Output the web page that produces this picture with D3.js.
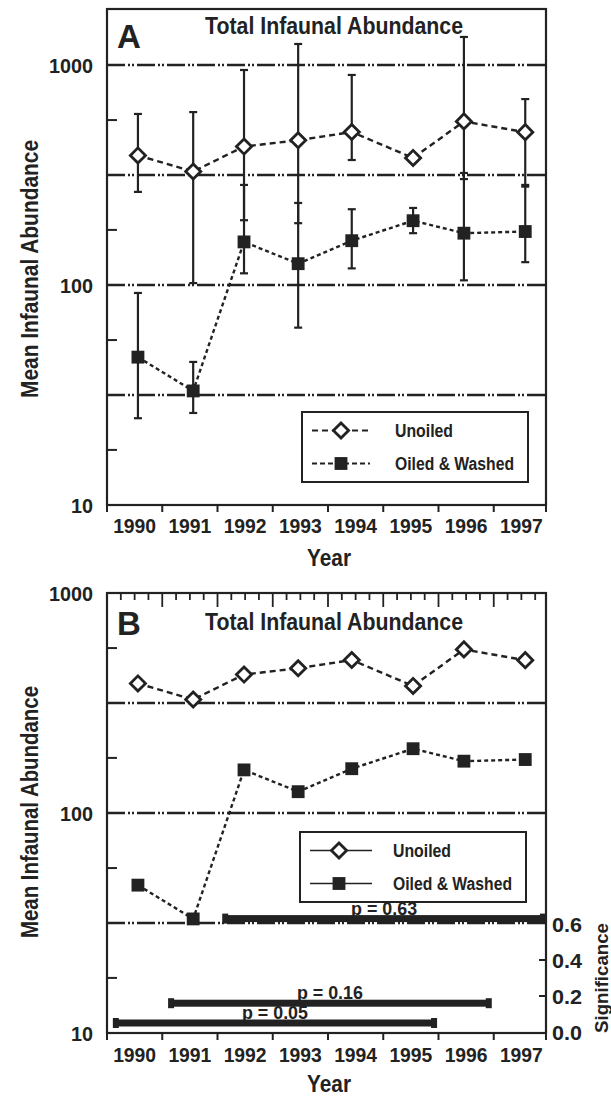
<!DOCTYPE html>
<html>
<head>
<meta charset="utf-8">
<script src="https://cdn.jsdelivr.net/npm/d3@7"></script>
<style>
  html, body { margin: 0; padding: 0; background: #fff; }
  svg { display: block; }
  text { font-family: 'Liberation Sans', Arial, Helvetica, sans-serif; font-weight: bold; fill: #222; }
</style>
</head>
<body>
<svg id="chart" width="611" height="1098"></svg>
<script>
// --- data ---
const years = [1990, 1991, 1992, 1993, 1994, 1995, 1996, 1997];
// sampling positions on the year axis (markers sit slightly off the year centres)
const sampleTimes = [1990.06, 1991.06, 1991.98, 1992.96, 1993.93, 1995.04, 1995.96, 1997.07];

const unoiledMean = [388, 328, 426, 455, 496, 378, 554, 495];
const unoiledLow  = [265, 102, 197, 191, 370, null, 303, 285];
const unoiledHigh = [599, 611, 949, 1246, 901, null, 1341, 700];

const oiledMean = [47, 33, 157, 125, 159, 196, 172, 175];
const oiledLow  = [24.8, 26.2, 113, 64, 119, 172, 105, 127];
const oiledHigh = [92, 44.7, 285, 236, 221, 224, 323, 280];

const yTickValues = [10, 100, 1000];
const gridValues = [1000, 316.2, 100, 31.62];
const minorTickValues = [562, 178, 56.2, 17.8];

// significance of the moving 6-year comparisons (panel B, right axis)
const sigTickValues = [0, 0.2, 0.4, 0.6];
const sigP = [0.63, 0.16, 0.05];
const sigStart = [1991.64, 1990.66, 1989.66];
const sigEnd = [1997.39, 1996.41, 1995.42];

const seriesNames = ['Unoiled', 'Oiled & Washed'];

// --- layout ---
const ink = '#222';
const gridDash = '18,3,2,2,2,3';
const svg = d3.select('#chart');

const x = d3.scaleLinear().domain([1989.5, 1997.5]).range([107, 549]);
const boxLeft = 107, boxRight = 546;

const panels = [
  { letter: 'A', top: 9, bottom: 505, y10: 505, y1000: 65, titleY: 34, letterY: 48,
    yTitleY: 269, yTitleLen: 258, xLabelY: 533, xTitleY: 566, errorBars: true, topTicks: false,
    legend: { x0: 302, y0: 412, x1: 528, y1: 482, dashed: true } },
  { letter: 'B', top: 593, bottom: 1033, y10: 1033, y1000: 593, titleY: 630, letterY: 635,
    yTitleY: 812, yTitleLen: 252, xLabelY: 1062, xTitleY: 1092, errorBars: false, topTicks: true,
    legend: { x0: 300, y0: 832, x1: 526, y1: 902, dashed: false }, significance: true }
];

const legendTextLen = [58, 119];

const diamond = d3.symbol().type(d3.symbolSquare).size(115);
const square = d3.symbol().type(d3.symbolSquare).size(165);

function drawMarker(g, type, cx, cy) {
  if (type === 'diamond') {
    g.append('path')
      .attr('d', diamond())
      .attr('transform', `translate(${cx},${cy}) rotate(45)`)
      .attr('fill', '#fff')
      .attr('stroke', ink)
      .attr('stroke-width', 2.8);
  } else {
    g.append('path')
      .attr('d', square())
      .attr('transform', `translate(${cx},${cy})`)
      .attr('fill', ink);
  }
}

function drawPanel(p) {
  const g = svg.append('g');
  const y = d3.scaleLog().domain([10, 1000]).range([p.y10, p.y1000]);

  // gridlines (dash-dot-dot)
  g.append('g').selectAll('line')
    .data(gridValues.filter(v => y(v) > p.top + 2))
    .enter().append('line')
    .attr('x1', boxLeft).attr('x2', boxRight)
    .attr('y1', d => y(d)).attr('y2', d => y(d))
    .attr('stroke', ink).attr('stroke-width', 2.4)
    .attr('stroke-dasharray', gridDash);

  // minor ticks on left axis (inward)
  g.append('g').selectAll('line')
    .data(minorTickValues)
    .enter().append('line')
    .attr('x1', boxLeft).attr('x2', boxLeft + 10)
    .attr('y1', d => y(d)).attr('y2', d => y(d))
    .attr('stroke', ink).attr('stroke-width', 2);

  // y tick labels
  g.append('g').selectAll('text')
    .data(yTickValues)
    .enter().append('text')
    .attr('x', 93).attr('y', d => y(d)).attr('dy', '0.36em')
    .attr('text-anchor', 'end').attr('font-size', 21)
    .attr('textLength', d => String(d).length * 11)
    .attr('lengthAdjust', 'spacingAndGlyphs')
    .text(d => d);

  // bottom ticks at year boundaries (outward)
  const bounds = d3.range(1990.5, 1997, 1);
  g.append('g').selectAll('line')
    .data(bounds)
    .enter().append('line')
    .attr('x1', d => x(d)).attr('x2', d => x(d))
    .attr('y1', p.bottom).attr('y2', p.bottom + 7)
    .attr('stroke', ink).attr('stroke-width', 2);
  [boxLeft, boxRight].forEach(bx => {
    g.append('line').attr('x1', bx).attr('x2', bx)
      .attr('y1', p.bottom).attr('y2', p.bottom + 7)
      .attr('stroke', ink).attr('stroke-width', 2);
  });

  // top ticks (panel B): quarter-year minor, year-boundary major
  if (p.topTicks) {
    const quarters = d3.range(1989.75, 1997.5, 0.25);
    g.append('g').selectAll('line')
      .data(quarters)
      .enter().append('line')
      .attr('x1', d => x(d)).attr('x2', d => x(d))
      .attr('y1', p.top)
      .attr('y2', d => Math.abs((d - 0.5) % 1) < 1e-6 ? p.top + 14 : p.top + 7)
      .attr('stroke', ink).attr('stroke-width', 1.8);
  }

  // x labels
  g.append('g').selectAll('text')
    .data(years)
    .enter().append('text')
    .attr('x', d => x(d)).attr('y', p.xLabelY)
    .attr('text-anchor', 'middle').attr('font-size', 21)
    .attr('textLength', 43).attr('lengthAdjust', 'spacingAndGlyphs')
    .text(d => d);

  g.append('text')
    .attr('x', 329).attr('y', p.xTitleY)
    .attr('text-anchor', 'middle').attr('font-size', 24)
    .attr('textLength', 44).attr('lengthAdjust', 'spacingAndGlyphs')
    .text('Year');

  g.append('text')
    .attr('transform', `translate(38,${p.yTitleY}) rotate(-90)`)
    .attr('text-anchor', 'middle').attr('font-size', 23)
    .attr('textLength', p.yTitleLen).attr('lengthAdjust', 'spacingAndGlyphs')
    .text('Mean Infaunal Abundance');

  g.append('text')
    .attr('x', 334).attr('y', p.titleY)
    .attr('text-anchor', 'middle').attr('font-size', 23)
    .attr('textLength', 258).attr('lengthAdjust', 'spacingAndGlyphs')
    .text('Total Infaunal Abundance');

  g.append('text')
    .attr('x', 117).attr('y', p.letterY)
    .attr('font-size', 33)
    .text(p.letter);

  // error bars (panel A)
  if (p.errorBars) {
    const bars = [];
    years.forEach((yr, i) => {
      if (unoiledLow[i] != null) bars.push({ t: sampleTimes[i], lo: unoiledLow[i], hi: unoiledHigh[i] });
      if (oiledLow[i] != null) bars.push({ t: sampleTimes[i], lo: oiledLow[i], hi: oiledHigh[i] });
    });
    const eb = g.append('g').attr('stroke', ink).attr('stroke-width', 2.2);
    bars.forEach(b => {
      const cx = x(b.t);
      eb.append('line').attr('x1', cx).attr('x2', cx).attr('y1', y(b.lo)).attr('y2', y(b.hi));
      eb.append('line').attr('x1', cx - 4).attr('x2', cx + 4).attr('y1', y(b.lo)).attr('y2', y(b.lo));
      eb.append('line').attr('x1', cx - 4).attr('x2', cx + 4).attr('y1', y(b.hi)).attr('y2', y(b.hi));
    });
  }

  // series lines
  const line = d3.line().x(d => x(d[0])).y(d => y(d[1]));
  g.append('path')
    .datum(sampleTimes.map((t, i) => [t, unoiledMean[i]]))
    .attr('d', line).attr('fill', 'none')
    .attr('stroke', ink).attr('stroke-width', 2.4).attr('stroke-dasharray', '6,4');
  g.append('path')
    .datum(sampleTimes.map((t, i) => [t, oiledMean[i]]))
    .attr('d', line).attr('fill', 'none')
    .attr('stroke', ink).attr('stroke-width', 2.4).attr('stroke-dasharray', '4,3');

  sampleTimes.forEach((t, i) => drawMarker(g, 'diamond', x(t), y(unoiledMean[i])));
  sampleTimes.forEach((t, i) => drawMarker(g, 'square', x(t), y(oiledMean[i])));

  // legend
  const L = p.legend;
  g.append('rect')
    .attr('x', L.x0).attr('y', L.y0)
    .attr('width', L.x1 - L.x0).attr('height', L.y1 - L.y0)
    .attr('fill', '#fff').attr('stroke', ink).attr('stroke-width', 2);
  const rowH = (L.y1 - L.y0) / 2;
  seriesNames.forEach((name, i) => {
    const ry = L.y0 + rowH * (i + 0.5) + (i === 0 ? 1 : -1);
    g.append('line')
      .attr('x1', L.x0 + 10).attr('x2', L.x0 + (L.dashed ? 68 : 72))
      .attr('y1', ry).attr('y2', ry)
      .attr('stroke', ink).attr('stroke-width', L.dashed ? 2.2 : 1.6)
      .attr('stroke-dasharray', L.dashed ? (i === 0 ? '6,4' : '5,3') : null);
    drawMarker(g, i === 0 ? 'diamond' : 'square', L.x0 + 39, ry);
    g.append('text')
      .attr('x', L.x0 + 93).attr('y', ry).attr('dy', '0.36em')
      .attr('font-size', 18)
      .attr('textLength', legendTextLen[i]).attr('lengthAdjust', 'spacingAndGlyphs')
      .text(name);
  });

  // significance bars (panel B)
  if (p.significance) {
    const s = d3.scaleLinear().domain([0, 0.6]).range([1032, 924]);
    const sg = g.append('g');
    sigP.forEach((pv, i) => {
      const x0 = x(sigStart[i]), x1 = x(sigEnd[i]), sy = s(pv);
      sg.append('rect').attr('x', x0).attr('y', sy - 3.5)
        .attr('width', x1 - x0).attr('height', 7).attr('fill', ink);
      [x0, x1].forEach(ex => {
        sg.append('rect').attr('x', ex - 3).attr('y', sy - 5)
          .attr('width', 6).attr('height', 10).attr('fill', ink);
      });
      sg.append('text')
        .attr('x', (x0 + x1) / 2).attr('y', sy - 4)
        .attr('text-anchor', 'middle').attr('font-size', 19)
        .attr('textLength', 66).attr('lengthAdjust', 'spacingAndGlyphs')
        .text('p = ' + pv.toFixed(2));
    });
    // right axis ticks and labels
    sg.selectAll('.sigtick')
      .data(sigTickValues.filter(v => v > 0 && v < 0.6))
      .enter().append('line')
      .attr('x1', boxRight - 7).attr('x2', boxRight)
      .attr('y1', d => s(d)).attr('y2', d => s(d))
      .attr('stroke', ink).attr('stroke-width', 2);
    sg.selectAll('.siglabel')
      .data(sigTickValues)
      .enter().append('text')
      .attr('x', 552).attr('y', d => s(d)).attr('dy', '0.36em')
      .attr('font-size', 21)
      .attr('textLength', 30).attr('lengthAdjust', 'spacingAndGlyphs')
      .text(d => d.toFixed(1));
    sg.append('text')
      .attr('transform', 'translate(608,978) rotate(-90)')
      .attr('text-anchor', 'middle').attr('font-size', 18)
      .attr('textLength', 110).attr('lengthAdjust', 'spacingAndGlyphs')
      .text('Significance');
  }

  // plot frame
  g.append('rect')
    .attr('x', boxLeft).attr('y', p.top)
    .attr('width', boxRight - boxLeft).attr('height', p.bottom - p.top)
    .attr('fill', 'none').attr('stroke', ink).attr('stroke-width', 2.2);
}

panels.forEach(drawPanel);
</script>
</body>
</html>
